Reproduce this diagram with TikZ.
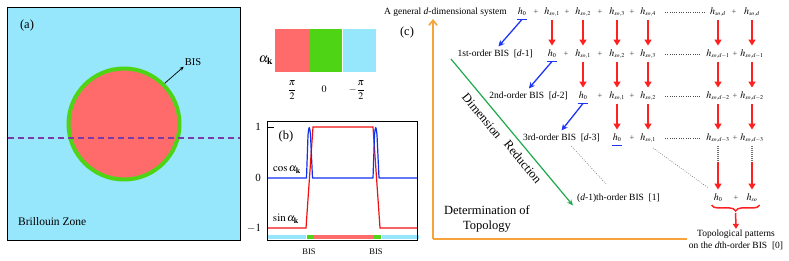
\documentclass[tikz,border=0pt]{standalone}
\usepackage{mathptmx}
\usepackage{fontspec}
\setmainfont{Liberation Serif}
\usetikzlibrary{arrows.meta,decorations.pathreplacing,calc}
\definecolor{bzblue}{HTML}{96E6FC}
\definecolor{bzred}{HTML}{FF6B6B}
\definecolor{bzgreen}{HTML}{4FD415}
\definecolor{dpurple}{HTML}{7A3BA8}
\definecolor{axorange}{HTML}{F5A33A}
\definecolor{drgreen}{HTML}{1DAA4B}
\definecolor{arblue}{HTML}{1F35F5}
\definecolor{arred}{HTML}{FF2020}
\definecolor{cvblue}{HTML}{1030F0}
\definecolor{cvred}{HTML}{F01010}
\newcommand{\hs}[1]{$h_{\scriptscriptstyle #1}$}
\begin{document}
\begin{tikzpicture}[x=1pt,y=-1pt,
  big/.style={font=\fontsize{12.5}{14}\selectfont, inner sep=1pt},
  lab/.style={font=\fontsize{9.5}{12}\selectfont, inner sep=1pt},
  hh/.style={font=\fontsize{10}{12}\selectfont, inner sep=1pt, text height=7pt, text depth=2.5pt},
  pl/.style={font=\fontsize{8.5}{10}\selectfont, inner sep=0pt, text height=7pt, text depth=2.5pt, text=black!75},
  redar/.style={arred, line width=1.6pt, -{Triangle[length=6pt,width=7pt]}, shorten <=2pt, shorten >=2.5pt},
  bluar/.style={arblue, line width=1.3pt, -{Stealth[length=6pt,width=6pt]}, shorten >=2pt},
  uline/.style={arblue, line width=1.2pt},
  hdots/.style={black!70, line width=0.6pt, dash pattern=on 0.7pt off 1.6pt},
  gdots/.style={black!60, line width=0.6pt, dash pattern=on 0.7pt off 1.6pt},
  swatch/.style={inner sep=0pt, minimum width=33.33pt, minimum height=43pt, anchor=north west},
  strip/.style={inner sep=0pt, minimum height=4pt, anchor=north west}
]
\useasboundingbox (0,0) rectangle (789,260);

% ---------------- panel (a)
\node[draw=black, line width=0.8pt, fill=bzblue, minimum size=233pt, inner sep=0pt, anchor=north west] (bz) at (7,7) {};
\node[circle, fill=bzred, draw=bzgreen, line width=4pt, minimum size=111pt, inner sep=0pt] (fs) at (124,124) {};
\draw[dpurple, line width=1.5pt, dash pattern=on 6pt off 4pt] (7.5,138) -- (239.5,138);
\node[big] (la) at (27,25) {(a)};
\node[lab, font=\fontsize{10.5}{12}\selectfont] (bisA) at (193,62) {BIS};
\draw[-{Stealth[length=4pt,width=3.5pt]}, line width=0.7pt] (fs.45) -- (bisA.south west);
\node[big, anchor=west, font=\fontsize{11.5}{13}\selectfont] (bzl) at (17,222) {Brillouin Zone};

% ---------------- colour bar
\node[swatch, fill=bzred] (cb1) at (275,29) {};
\node[swatch, fill=bzgreen] (cb2) at (cb1.north east) {};
\node[swatch, fill=bzblue] (cb3) at (cb2.north east) {};
\node[big, font=\fontsize{13}{14}\selectfont] (ak) at (266,60) {$\alpha_{\mathbf k}$};
\node[lab, font=\fontsize{10}{12}\selectfont] (p1) at (292,90) {$\displaystyle\frac{\pi}{2}$};
\node[lab, font=\fontsize{10}{12}\selectfont] (p2) at (324,89) {$0$};
\node[lab, font=\fontsize{10}{12}\selectfont] (p3) at (357,90) {$\displaystyle-\frac{\pi}{2}$};

% ---------------- panel (b)
\node[strip, fill=bzblue, minimum width=39pt] (s1) at (267,235) {};
\node[strip, fill=bzgreen, minimum width=7pt] (s2) at (s1.north east) {};
\node[strip, fill=bzred, minimum width=60pt] (s3) at (s2.north east) {};
\node[strip, fill=bzgreen, minimum width=7pt] (s4) at (s3.north east) {};
\node[strip, fill=bzblue, minimum width=37pt] (s5) at (s4.north east) {};
\draw[cvred, line width=1.2pt] (267,228) -- (306,228) -- (313,127) -- (373,127) -- (380,228) -- (417,228);
\draw[cvblue, line width=1.2pt, line join=round] (267,178) -- (306.5,178) -- (308,135) .. controls (309,125) and (309.5,125) .. (310.5,135) -- (312.5,178) -- (373,178) -- (374.5,135) .. controls (375.5,125) and (376,125) .. (377,135) -- (379,178) -- (417,178);
\node[draw=black, line width=0.9pt, minimum width=150pt, minimum height=119pt, inner sep=0pt, anchor=north west] (pb) at (267,121) {};
\draw[line width=0.9pt] (267,127) -- (274,127);
\node[lab, font=\fontsize{11}{12}\selectfont] (y1) at (258,127) {1};
\node[lab, font=\fontsize{11}{12}\selectfont] (y0) at (258,178) {0};
\node[lab, font=\fontsize{11}{12}\selectfont] (ym) at (254,228) {$-1$};
\node[big] (lb) at (286,136) {(b)};
\node[lab, font=\fontsize{11}{12}\selectfont] (cosl) at (287,170) {$\cos\alpha_{\mathbf k}$};
\node[lab, font=\fontsize{11}{12}\selectfont] (sinl) at (286,219) {$\sin\alpha_{\mathbf k}$};
\node[lab, font=\fontsize{8.5}{10}\selectfont] (bb1) at (309,252) {BIS};
\node[lab, font=\fontsize{8.5}{10}\selectfont] (bb2) at (376,252) {BIS};

% ---------------- panel (c)
\node[big] (lc) at (407,32) {(c)};
\coordinate (oo) at (433,239);
\coordinate (oy) at (433,19);
\coordinate (ox) at (687,239);
\draw[axorange, line width=1.6pt, -{Straight Barb[length=5pt,width=8pt]}] (oo) -- (oy);
\draw[axorange, line width=1.6pt] (oo) -- (ox);

% row 0
\node[lab, anchor=east] (r0lab) at (508,12) {A general \textit{d}-dimensional system};
\node[hh] (r0h0) at (522,12) {\hs{0}};
\node[pl] (r0p1) at (536,12) {+};
\node[hh] (r0c1) at (552,12) {\hs{so,1}};
\node[pl] (r0p2) at (567,12) {+};
\node[hh] (r0c2) at (583,12) {\hs{so,2}};
\node[pl] (r0p3) at (600,12) {+};
\node[hh] (r0c3) at (617,12) {\hs{so,3}};
\node[pl] (r0p4) at (632,12) {+};
\node[hh] (r0c4) at (648,12) {\hs{so,4}};
\node[hh] (r0d1) at (718,12) {\hs{so,d}};
\node[pl] (r0p5) at (734,12) {+};
\node[hh] (r0d2) at (752,12) {\hs{so,d}};
% row 1
\node[lab, anchor=east] (r1lab) at (534,54) {1st-order BIS\ \ [\textit{d}-1]};
\node[hh] (r1h0) at (552,54) {\hs{0}};
\node[pl] (r1p1) at (566,54) {+};
\node[hh] (r1c2) at (583,54) {\hs{so,1}};
\node[pl] (r1p2) at (600,54) {+};
\node[hh] (r1c3) at (617,54) {\hs{so,2}};
\node[pl] (r1p3) at (632,54) {+};
\node[hh] (r1c4) at (648,54) {\hs{so,3}};
\node[hh] (r1d1) at (718,54) {\hs{so,d-1}};
\node[pl] (r1p5) at (735,54) {+};
\node[hh] (r1d2) at (752,54) {\hs{so,d-1}};
% row 2
\node[lab, anchor=east] (r2lab) at (569,96) {2nd-order BIS\ \ [\textit{d}-2]};
\node[hh] (r2h0) at (583,96) {\hs{0}};
\node[pl] (r2p1) at (600,96) {+};
\node[hh] (r2c3) at (617,96) {\hs{so,1}};
\node[pl] (r2p2) at (632,96) {+};
\node[hh] (r2c4) at (648,96) {\hs{so,2}};
\node[hh] (r2d1) at (718,96) {\hs{so,d-2}};
\node[pl] (r2p5) at (735,96) {+};
\node[hh] (r2d2) at (752,96) {\hs{so,d-2}};
% row 3
\node[lab, anchor=east] (r3lab) at (601,138) {3rd-order BIS\ \ [\textit{d}-3]};
\node[hh] (r3h0) at (617,138) {\hs{0}};
\node[pl] (r3p1) at (632,138) {+};
\node[hh] (r3c4) at (648,138) {\hs{so,1}};
\node[hh] (r3d1) at (718,138) {\hs{so,d-3}};
\node[pl] (r3p5) at (735,138) {+};
\node[hh] (r3d2) at (752,138) {\hs{so,d-3}};
% bottom
\node[lab, anchor=west] (dlab) at (576,198) {(\textit{d}-1)th-order BIS\ \ [1]};
\node[hh] (b0) at (718,198) {\hs{0}};
\node[pl] (bp) at (736,198) {+};
\node[hh] (b2) at (752,198) {\hs{so}};
\node[lab, align=center] (topo) at (736,240) {Topological patterns\\on the \textit{d}th-order BIS\ \ [0]};
\node[big, align=center, font=\fontsize{12.5}{15}\selectfont] (det) at (487,219) {Determination of\\Topology};

% horizontal dots
\foreach \r in {0,1,2,3} {
  \draw[hdots] ($(r\r c4.east)+(8,0)$) -- ($(r\r d1.west)+(-4,0)$);
}

% red arrows
\draw[redar] (r0c1.south) -- (r1h0.north);
\draw[redar] (r0c2.south) -- (r1c2.north);
\draw[redar] (r0c3.south) -- (r1c3.north);
\draw[redar] (r0c4.south) -- (r1c4.north);
\draw[redar] (r0d1.south) -- (r1d1.north);
\draw[redar] (r0d2.south) -- (r1d2.north);
\draw[redar] (r1c2.south) -- (r2h0.north);
\draw[redar] (r1c3.south) -- (r2c3.north);
\draw[redar] (r1c4.south) -- (r2c4.north);
\draw[redar] (r1d1.south) -- (r2d1.north);
\draw[redar] (r1d2.south) -- (r2d2.north);
\draw[redar] (r2c3.south) -- (r3h0.north);
\draw[redar] (r2c4.south) -- (r3c4.north);
\draw[redar] (r2d1.south) -- (r3d1.north);
\draw[redar] (r2d2.south) -- (r3d2.north);
\coordinate (m1) at (718,162);
\coordinate (m2) at (752,162);
\draw[black!55, line width=1.2pt, dash pattern=on 1pt off 1pt] ($(r3d1.south)+(0,2)$) -- (m1);
\draw[black!55, line width=1.2pt, dash pattern=on 1pt off 1pt] ($(r3d2.south)+(0,2)$) -- (m2);
\draw[redar, shorten <=0pt] (m1) -- (b0.north);
\draw[redar, shorten <=0pt] (m2) -- (b2.north);

% blue underlines and arrows
\draw[uline] ($(r0h0.south west)+(0,1.5)$) -- ($(r0h0.south east)+(0,1.5)$);
\draw[uline] ($(r1h0.south west)+(0,1.5)$) -- ($(r1h0.south east)+(0,1.5)$);
\draw[uline] ($(r2h0.south west)+(0,1.5)$) -- ($(r2h0.south east)+(0,1.5)$);
\draw[uline] ($(r3h0.south west)+(0,1.5)$) -- ($(r3h0.south east)+(0,1.5)$);
\draw[bluar] ($(r0h0.south)+(0,1.5)$) -- ($(r1lab.north)+(2,-1)$);
\draw[bluar] ($(r1h0.south)+(0,1.5)$) -- ($(r2lab.north)+(-1,-1)$);
\draw[bluar] ($(r2h0.south)+(0,1.5)$) -- ($(r3lab.north)+(-1,-1)$);

% green dimension-reduction arrow
\coordinate (g1) at (451,59);
\draw[drgreen, line width=1.2pt, -{Stealth[length=6pt,width=5pt]}] (g1) -- ($(dlab.south west)+(-3,2)$);
\node[big, rotate=-50.5, inner sep=0pt] (dimw) at (482,116) {Dimension};
\node[big, rotate=-50.5, inner sep=0pt] (redw) at (523,162) {Reduction};

% gray dotted guides
\draw[gdots] ($(r3lab.south)+(10,3)$) -- ($(dlab.north)+(-12,-8)$);
\draw[gdots] ($(r3c4.south)+(5,4)$) -- ($(b0.north west)+(-4,-4)$);

% brace
\draw[arred, line width=1.5pt, decorate, decoration={brace, mirror, amplitude=6pt}] ($(b0.south west)+(-1,1)$) -- ($(b2.south east)+(1,1)$);
\coordinate (bt) at ($(b0.south west)!0.5!(b2.south east)+(0,9)$);
\draw[arred, line width=1.5pt, -{Triangle[length=5pt,width=6pt]}] (bt) -- (topo.north);
\end{tikzpicture}
\end{document}
